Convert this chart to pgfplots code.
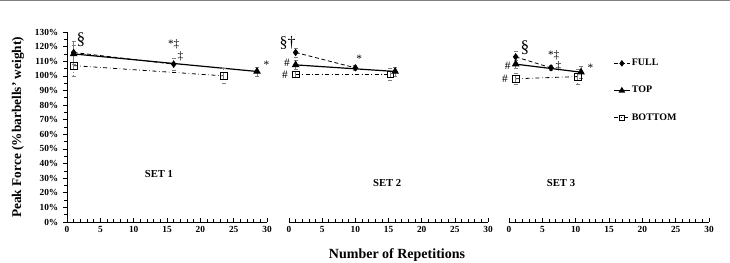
\documentclass[border=0pt]{standalone}
\usepackage{fontspec}
\setmainfont{Liberation Serif}
\usepackage{pgfplots}
\pgfplotsset{compat=1.18}
\tikzset{ann/.style={font=\fontsize{8.5}{9}\selectfont, inner sep=1pt}}
\begin{document}
\begin{tikzpicture}
\useasboundingbox (0,0) rectangle (547.5pt,196.5pt);
\draw[gray, line width=1.2pt] (0,196pt) -- (547.5pt,196pt);
\pgfplotsset{
  panel/.style={
    anchor=south west, scale only axis,
    height=142.5pt,
    xmin=0, xmax=30, ymin=0, ymax=130,
    xtick={0,5,...,30}, minor x tick num=4,
    axis x line*=bottom,
    axis line style={-, black, line width=0.6pt},
    x tick style={black, line width=0.5pt},
    xtick align=inside,
    major tick length=3pt, minor tick length=2pt,
    tick label style={font=\bfseries\fontsize{7}{8}\selectfont},
    /pgf/number format/assume math mode=true,
    clip=false,
    every axis plot/.append style={black},
    error bars/error bar style={gray, line width=0.4pt},
    error bars/error mark options={rotate=90, mark size=1.5pt, gray},
  },
  full/.style={densely dashed, line width=0.6pt, mark=diamond*, mark size=2.3pt, mark options={solid, fill=black}},
  top/.style={solid, line width=0.9pt, mark=triangle*, mark size=2.5pt, mark options={solid, fill=black}},
  bottom/.style={dash dot, line width=0.6pt, mark=square, mark size=2.5pt, mark options={solid, fill=white}},
}
% Panel 1
\begin{axis}[panel, at={(50.25pt,30pt)}, width=150pt,
  axis y line*=left,
  ytick={0,10,...,130}, minor y tick num=1,
  y tick style={black, line width=0.5pt},
  ytick align=outside,
  yticklabel={\pgfmathprintnumber{\tick}\%},
]
\addplot[full] plot[error bars/.cd, y dir=both, y explicit] coordinates {(1,116) +- (0,8) (16,108) +- (0,4)};
\addplot[top] plot[error bars/.cd, y dir=both, y explicit] coordinates {(1,115) +- (0,6) (28.5,103) +- (0,3)};
\addplot[bottom] plot[error bars/.cd, y dir=both, y explicit] coordinates {(1,107) +- (0,7) (23.5,100) +- (0,5)};
\node[font=\fontsize{13}{14}\selectfont] at (axis cs:2.1,124.5) {§};
\node[ann] at (axis cs:16,121.5) {*‡};
\node[ann] at (axis cs:17.0,113.5) {‡};
\node[ann] at (axis cs:29.9,107.5) {*};
\node[font=\bfseries\fontsize{8}{9}\selectfont] at (axis cs:13.8,33) {SET 1};
\end{axis}
% Panel 2
\begin{axis}[panel, at={(216.75pt,30pt)}, width=149.25pt,
  axis y line=none,
]
\addplot[full] plot[error bars/.cd, y dir=both, y explicit] coordinates {(1,116) +- (0,3) (10,105.5) +- (0,2)};
\addplot[top] plot[error bars/.cd, y dir=both, y explicit] coordinates {(1,107.5) +- (0,3) (16,103) +- (0,3)};
\addplot[bottom] plot[error bars/.cd, y dir=both, y explicit] coordinates {(1,101) +- (0,2) (15.3,101) +- (0,4)};
\node[font=\fontsize{12}{13}\selectfont] at (axis cs:-0.2,122.8) {§†};
\node[ann] at (axis cs:10.6,112) {*};
\node[ann] at (axis cs:-0.3,109) {\#};
\node[ann] at (axis cs:-0.6,101) {\#};
\node[font=\bfseries\fontsize{8}{9}\selectfont] at (axis cs:14.8,26.7) {SET 2};
\end{axis}
% Panel 3
\begin{axis}[panel, at={(381.75pt,30pt)}, width=150pt,
  axis y line=none,
  legend style={at={(0.50,0.88)}, anchor=north west, draw=none, fill=none,
    font=\bfseries\fontsize{7.5}{9}\selectfont, row sep=12pt,
    nodes={inner sep=1pt}},
  legend cell align=left,
  legend image code/.code={\draw[#1] (0pt,0pt) -- (12pt,0pt); \draw[#1, solid, mark size=2pt] plot coordinates {(6pt,0pt)};},
]
\addplot[full] plot[error bars/.cd, y dir=both, y explicit] coordinates {(1,113) +- (0,4) (6.3,105.5) +- (0,2)};
\addplot[top] plot[error bars/.cd, y dir=both, y explicit] coordinates {(1,108) +- (0,3) (10.8,102.5) +- (0,4)};
\addplot[bottom] plot[error bars/.cd, y dir=both, y explicit] coordinates {(1,98) +- (0,4) (10.3,99.5) +- (0,5)};
\legend{FULL, TOP, BOTTOM}
\node[font=\fontsize{13}{14}\selectfont] at (axis cs:2.4,119.5) {§};
\node[ann] at (axis cs:6.7,114) {*‡};
\node[ann] at (axis cs:7.4,106.5) {‡};
\node[ann] at (axis cs:12.2,105.5) {*};
\node[ann] at (axis cs:-0.2,107) {\#};
\node[ann] at (axis cs:-0.6,98) {\#};
\node[font=\bfseries\fontsize{8}{9}\selectfont] at (axis cs:7.8,26.7) {SET 3};
\end{axis}
\node[font=\bfseries\fontsize{10.5}{12}\selectfont] at (297.75pt,5.5pt) {Number of Repetitions};
\node[font=\bfseries\fontsize{10}{12}\selectfont, rotate=90] at (13.5pt,101pt) {Peak Force (\%barbells' weight)};
\end{tikzpicture}
\end{document}
